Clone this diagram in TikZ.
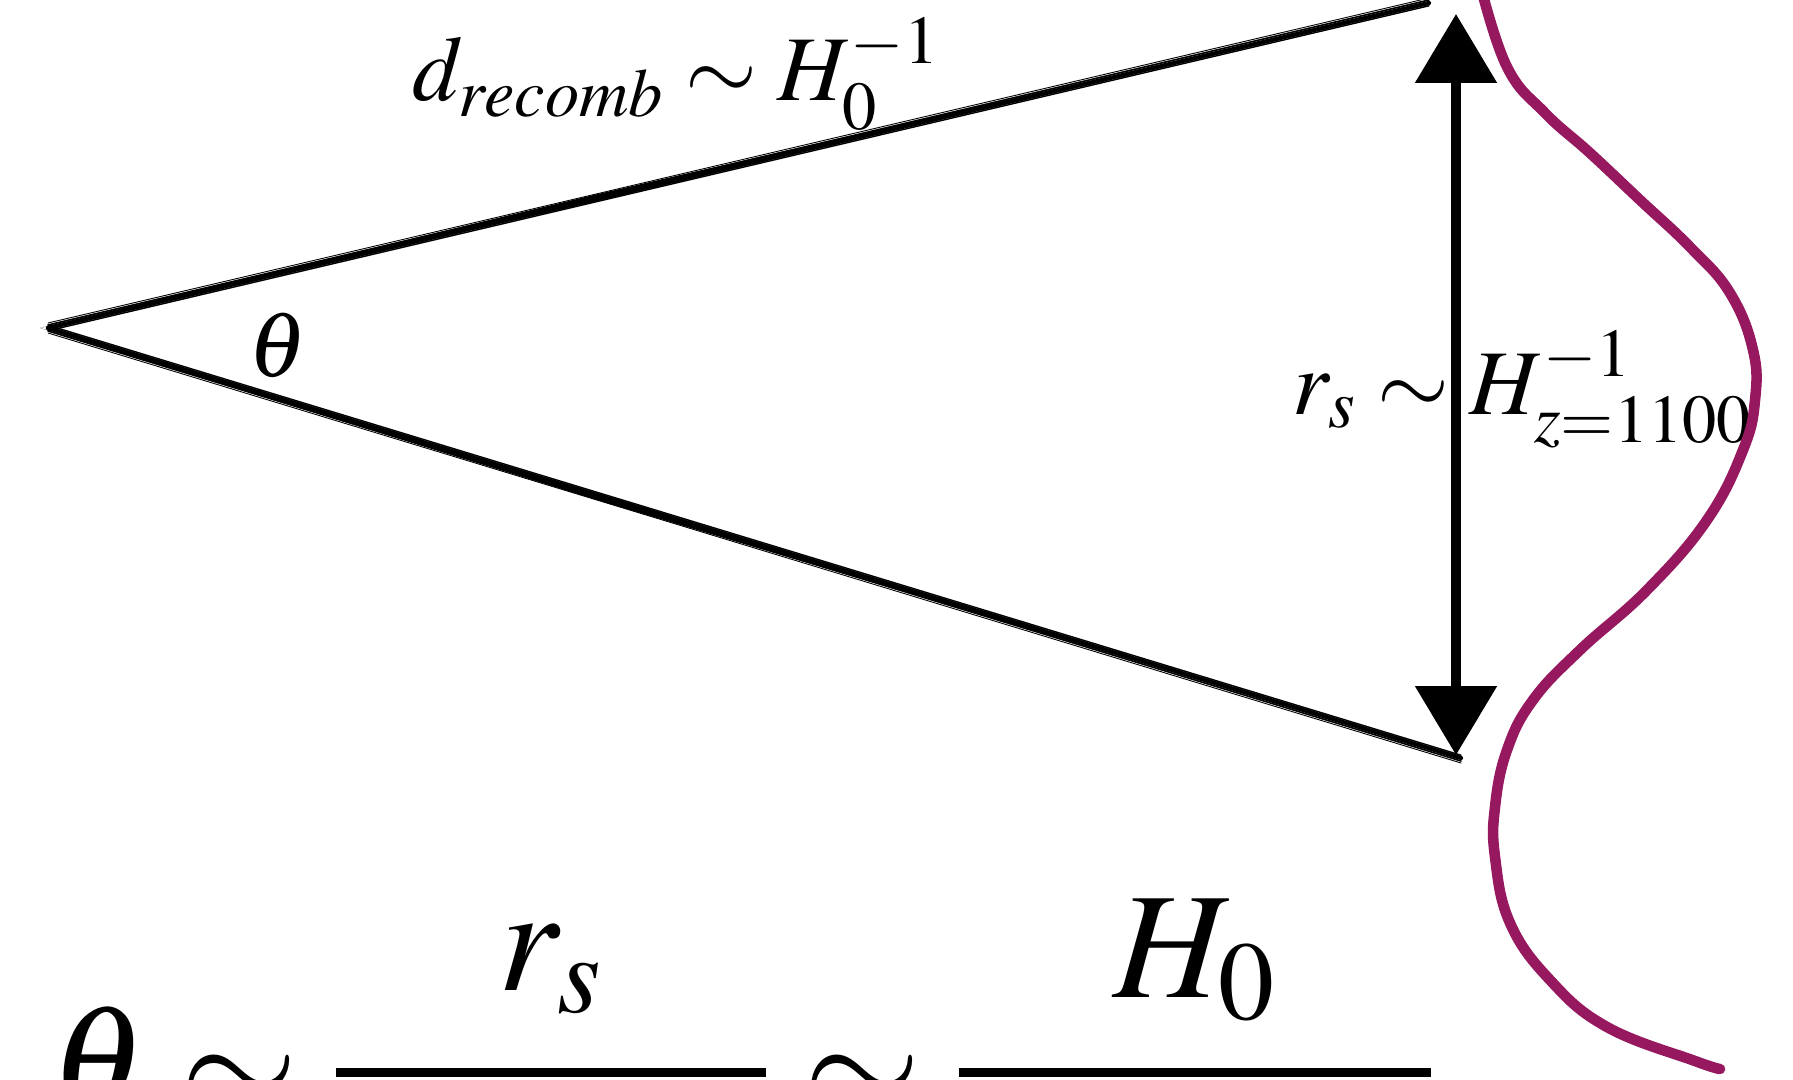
\documentclass[tikz,border=0pt]{standalone}
\usepackage{amsmath,amssymb}
\usepackage{mathptmx}
\usepackage{xcolor}
\usetikzlibrary{arrows.meta,positioning,calc}
\definecolor{wavecol}{RGB}{150,24,94}

\begin{document}
\begin{tikzpicture}[
  lbl/.style={inner sep=0pt,font=\fontsize{26.3}{31}\selectfont},
  big/.style={inner sep=0pt,font=\fontsize{43}{50}\selectfont},
  edge/.style={black,line cap=round},
  wave/.style={wavecol,line cap=round},
  dblarr/.style={{Triangle[length=6.9mm,width=8mm]}-{Triangle[length=6.9mm,width=8mm]},line width=2.6pt}]
\useasboundingbox (0,0) rectangle (17.93,10.79);
% cone of the sound horizon
\coordinate (obs) at (0.40,7.51);
\coordinate (fartop) at (14.29,10.76);
\coordinate (farbot) at (14.61,3.21);
\coordinate (arrtop) at (14.56,10.65);
\coordinate (arrbot) at (14.56,3.24);
\fill[edge] (obs) -- ($(obs)!0.4!(fartop)+(0,0.035)$) -- (fartop) -- ($(obs)!0.4!(fartop)+(0,-0.035)$) -- cycle;
\fill[edge] (obs) -- ($(obs)!0.4!(farbot)+(0,0.035)$) -- (farbot) -- ($(obs)!0.4!(farbot)+(0,-0.035)$) -- cycle;
\foreach \up/\dn/\lw in {0/0/1.2pt,0.03/-0.03/0.45pt,-0.028/0.028/0.4pt,0.05/-0.05/0.25pt}{
  \draw[edge,line width=\lw] ($(obs)+(0.08,\up)$) -- ($(fartop)+(0,\up)$);
  \draw[edge,line width=\lw] ($(obs)+(0.08,\dn)$) -- ($(farbot)+(0,\dn)$);
}
% labels
\node[lbl,anchor=base west] (dlabel) at (4.12,9.78) {$d_{recomb}\sim H_0^{-1}$};
\node[lbl] (theta) at (2.78,7.34) {$\theta$};
\node[lbl,anchor=base west] (rlabel) at (12.92,6.65) {$r_s\sim H^{-1}_{z=1100}$};
\node[big,anchor=base west] (ratio) at (0.50,-0.31)
  {$\displaystyle\theta\sim\genfrac{}{}{2.6pt}{0}{\raisebox{5pt}{$r_s$}}{\hbox to 4.3cm{}}\sim\genfrac{}{}{2.6pt}{0}{\raisebox{3pt}{$H_0$}}{\hbox to 4.72cm{}}$};
% size of the horizon
\draw[dblarr] (arrtop) -- (arrbot);
% acoustic wave
\foreach \dx/\lw in {0/3pt,0.035/0.7pt,-0.035/0.6pt}{
  \draw[wave,line width=\lw,xshift=\dx cm] plot[smooth,tension=0.7] coordinates
    {(14.80,10.95) (15.07,10.12) (15.45,9.66) (15.90,9.26) (16.40,8.79) (16.90,8.32)
     (17.30,7.86) (17.53,7.29) (17.55,6.79) (17.43,6.29) (17.07,5.59) (16.47,4.89)
     (15.80,4.29) (15.33,3.79) (15.07,3.29) (14.95,2.72) (14.95,2.22) (15.10,1.56)
     (15.50,0.99) (16.07,0.52) (16.95,0.18) (17.20,0.10)};
}
\end{tikzpicture}
\end{document}
